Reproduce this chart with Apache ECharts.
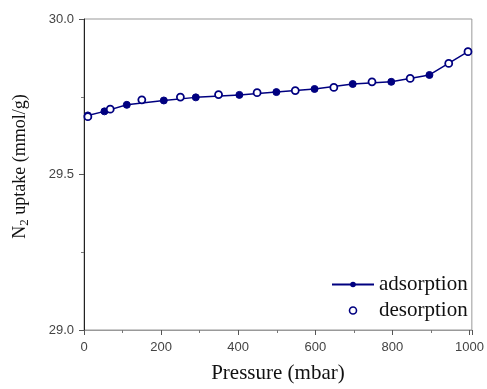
<!DOCTYPE html>
<html><head><meta charset="utf-8">
<script src="https://cdn.jsdelivr.net/npm/echarts@6/dist/echarts.min.js"></script>
<style>html,body{margin:0;padding:0;background:#fff}#c{width:487px;height:389px}</style>
</head><body><div id="c"></div>
<script>
const adsP = [10, 53, 111, 207, 290, 403, 499, 598, 697, 797, 896, 996];
const adsV = [29.690, 29.703, 29.724, 29.738, 29.748, 29.756, 29.765, 29.775, 29.791, 29.798, 29.820, 29.895];
const desP = [996, 946, 846, 747, 648, 548, 449, 349, 250, 150, 68, 10];
const desV = [29.895, 29.857, 29.809, 29.798, 29.780, 29.770, 29.763, 29.757, 29.749, 29.740, 29.710, 29.686];
const xTicks = [0, 200, 400, 600, 800, 1000];
const yTicks = [29.0, 29.5, 30.0];

const navy = '#000080';
const chart = echarts.init(document.getElementById('c'));
chart.setOption({
  animation: false,
  grid: {left: 84, right: 12, top: 19, bottom: 55, show: true, borderColor: '#999', borderWidth: 1},
  xAxis: {
    type: 'value', min: 0, max: 1006, interval: 200,
    name: 'Pressure (mbar)', nameLocation: 'middle', nameGap: 33,
    nameTextStyle: {fontFamily: 'Liberation Serif', fontSize: 21, color: '#111'},
    axisLine: {lineStyle: {color: '#999'}},
    axisTick: {length: 5, lineStyle: {color: '#555'}},
    minorTick: {show: true, splitNumber: 2, length: 3, lineStyle: {color: '#777'}},
    splitLine: {show: false},
    axisLabel: {margin: 11, fontFamily: 'Liberation Sans', fontSize: 13, color: '#444',
      showMaxLabel: false,
      formatter: v => xTicks.includes(v) ? String(v) : ''}
  },
  yAxis: {
    type: 'value', min: 29, max: 30, interval: 0.5,
    name: '{n|N}{s|2}{n| uptake (mmol/g)}', nameLocation: 'middle', nameGap: 53,
    nameTextStyle: {padding: [0, 0, 0, 16], rich: {
      n: {fontFamily: 'Liberation Serif', fontSize: 18, color: '#111'},
      s: {fontFamily: 'Liberation Serif', fontSize: 13, color: '#111', verticalAlign: 'bottom', padding: [8, 0, 0, 0]}
    }},
    axisLine: {show: true, lineStyle: {color: '#222'}},
    axisTick: {show: true, length: 5, lineStyle: {color: '#555'}},
    minorTick: {show: true, splitNumber: 2, length: 3, lineStyle: {color: '#777'}},
    splitLine: {show: false},
    axisLabel: {margin: 10, fontFamily: 'Liberation Sans', fontSize: 13, color: '#444',
      formatter: v => v.toFixed(1)}
  },
  legend: {
    orient: 'vertical', left: 326, top: 269, itemWidth: 42, itemHeight: 7, itemGap: 5,
    textStyle: {fontFamily: 'Liberation Serif', fontSize: 21, color: '#111'},
    data: [
      {name: 'adsorption'},
      {name: 'desorption', icon: 'circle', itemStyle: {color: '#fff', borderColor: navy, borderWidth: 1.6}}
    ]
  },
  series: [
    {name: 'adsorption', type: 'line', z: 2, data: adsP.map((p, i) => [p, adsV[i]]),
     symbol: 'circle', symbolSize: 7, lineStyle: {color: navy, width: 1.5},
     itemStyle: {color: navy, borderColor: navy}},
    {name: 'desorption', type: 'scatter', z: 5, data: desP.map((p, i) => [p, desV[i]]),
     symbol: 'circle', symbolSize: 7,
     itemStyle: {color: '#fff', borderColor: navy, borderWidth: 1.8, opacity: 1}}
  ]
});
</script></body></html>
